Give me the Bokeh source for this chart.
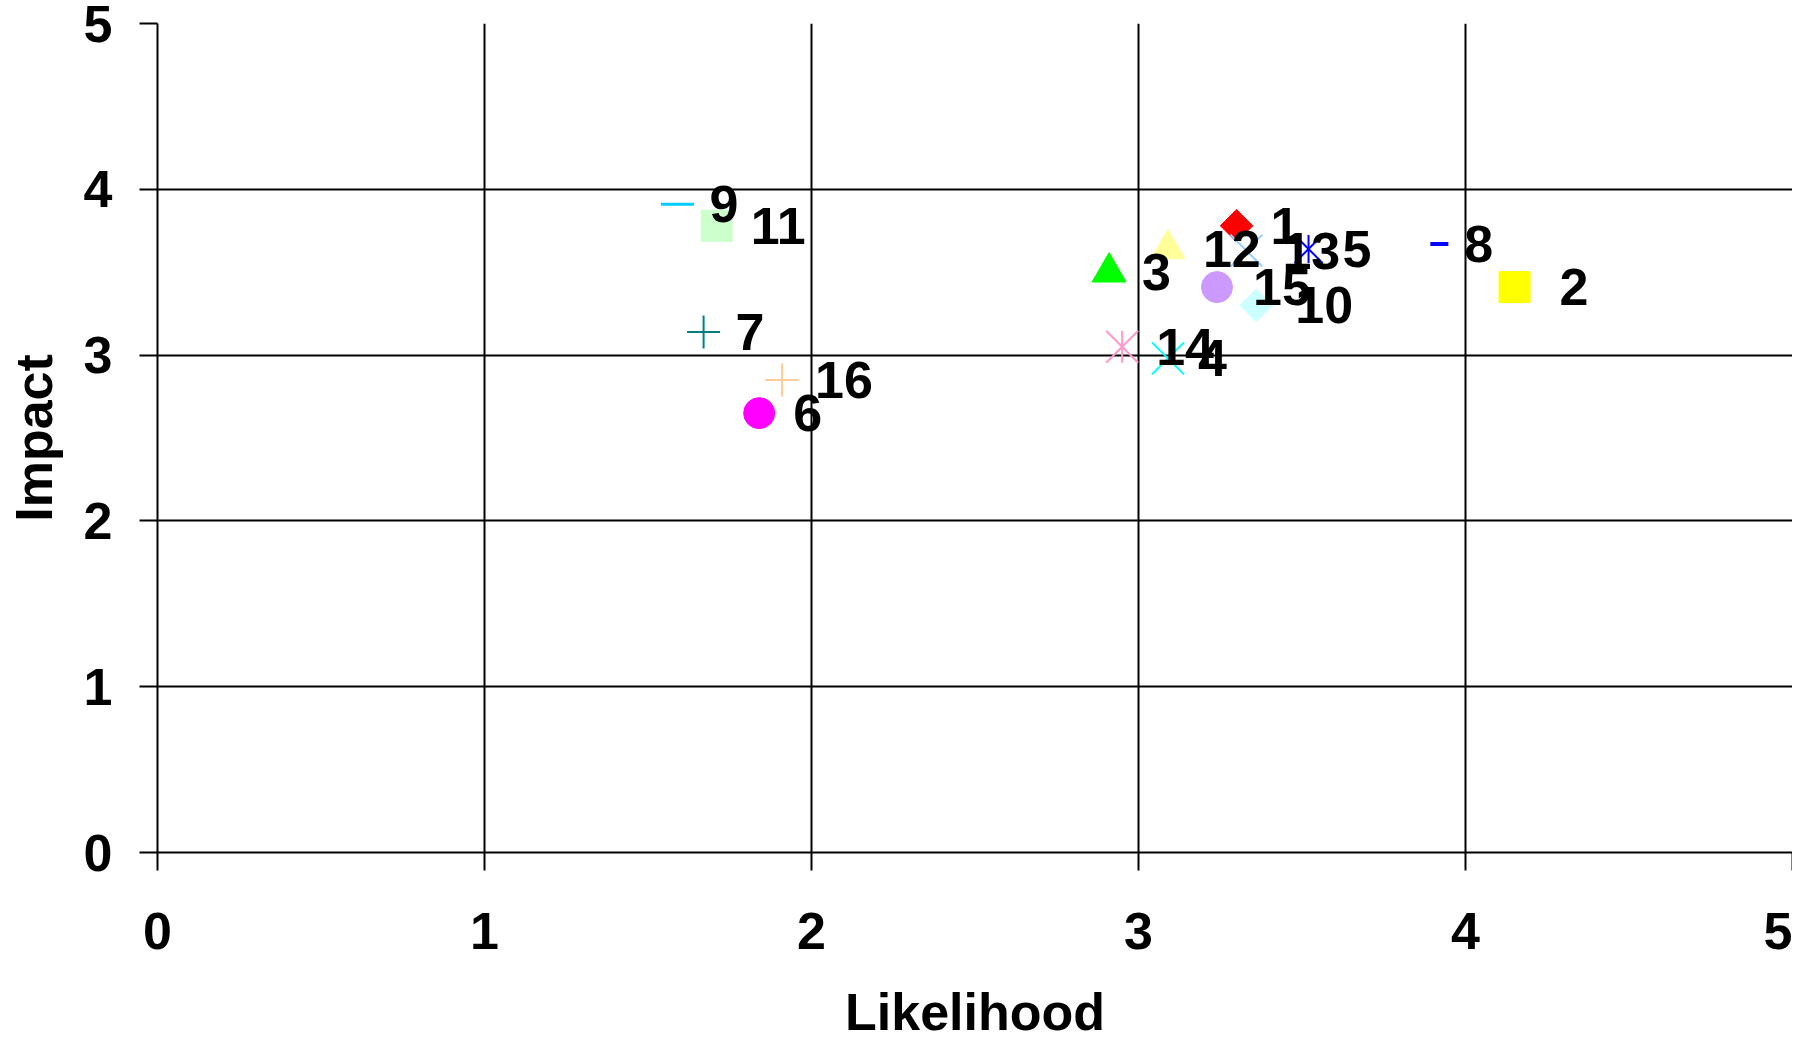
import numpy as np
from bokeh.plotting import figure
from bokeh.models import Range1d, FixedTicker
from bokeh.core.properties import value
from bokeh.embed import file_html
from bokeh.resources import INLINE

# ---- data ----
risk_ids = ["1", "2", "3", "4", "5", "6", "7", "8", "9", "10", "11", "12", "13", "14", "15", "16"]
likelihood = [3.30, 4.15, 2.91, 3.09, 3.52, 1.84, 1.67, 3.92, 1.59, 3.36, 1.71, 3.09, 3.33, 2.95, 3.24, 1.91]
impact = [3.78, 3.41, 3.50, 2.98, 3.64, 2.65, 3.14, 3.67, 3.91, 3.30, 3.78, 3.64, 3.63, 3.05, 3.41, 2.85]
axis_ticks = [0, 1, 2, 3, 4, 5]

# ---- styles (per risk id): marker kind, colour, size in px ----
marker_style = {
    "1": ("diamond", "#FF0000", 23),
    "2": ("square", "#FFFF00", 31),
    "3": ("triangle", "#00FF00", 34),
    "4": ("x", "#00FFFF", 32),
    "5": ("asterisk", "#0000FF", 28),
    "6": ("circle", "#FF00FF", 31),
    "7": ("cross", "#008080", 33),
    "8": ("dash", "#0000FF", 18),
    "9": ("dash", "#00CCFF", 33),
    "10": ("diamond", "#CCFFFF", 23),
    "11": ("square", "#CCFFCC", 31),
    "12": ("triangle", "#FFFF99", 34),
    "13": ("x", "#99CCFF", 32),
    "14": ("asterisk", "#FF99CC", 32),
    "15": ("circle", "#CC99FF", 31),
    "16": ("cross", "#FFCC99", 33),
}
dash_width = {"8": 4, "9": 3}
label_dx = [34, 45, 33, 30, 34, 34, 32, 25, 32, 39, 34, 35, 36, 34, 36, 33]

FONT = value("Liberation Sans")
FS = "52px"
SQ2 = np.sqrt(2)

p = figure(width=1792, height=1043, output_backend="svg", toolbar_location=None,
           x_range=Range1d(0, 5), y_range=Range1d(0, 5),
           min_border_left=157, min_border_top=23, min_border_right=0, min_border_bottom=187)
p.background_fill_color = "white"
p.border_fill_color = "white"
p.outline_line_color = None

for ax in (p.xaxis[0], p.yaxis[0]):
    ax.ticker = FixedTicker(ticks=axis_ticks)
    ax.axis_line_color = "black"
    ax.axis_line_width = 2
    ax.major_tick_line_color = "black"
    ax.major_tick_line_width = 2
    ax.major_tick_out = 18
    ax.major_tick_in = 0
    ax.minor_tick_line_color = None
    ax.major_label_text_font = "Liberation Sans"
    ax.major_label_text_font_style = "bold"
    ax.major_label_text_font_size = FS
    ax.major_label_text_color = "black"
    ax.axis_label_text_font = "Liberation Sans"
    ax.axis_label_text_font_style = "bold"
    ax.axis_label_text_font_size = FS
    ax.axis_label_text_color = "black"

p.xaxis.axis_label = "Likelihood"
p.yaxis.axis_label = "Impact"
p.xaxis.major_label_standoff = 42
p.yaxis.major_label_standoff = 27
p.xaxis.axis_label_standoff = 31
p.yaxis.axis_label_standoff = 18

p.xgrid.grid_line_color = "black"
p.ygrid.grid_line_color = "black"
p.xgrid.grid_line_width = 2
p.ygrid.grid_line_width = 2
p.xgrid.grid_line_alpha = 1
p.ygrid.grid_line_alpha = 1

for i, rid in enumerate(risk_ids):
    kind, color, size = marker_style[rid]
    xs, ys = [likelihood[i]], [impact[i]]
    if kind == "diamond":
        p.scatter(xs, ys, marker="square", angle=np.pi / 4, size=size,
                  fill_color=color, line_color=color)
    elif kind in ("square", "circle", "triangle"):
        p.scatter(xs, ys, marker=kind, size=size, fill_color=color, line_color=color)
    elif kind == "asterisk":
        p.scatter(xs, ys, marker="x", size=size * SQ2, line_color=color, line_width=2)
        p.scatter(xs, ys, marker="dash", angle=np.pi / 2, size=size, line_color=color, line_width=2)
    elif kind == "x":
        p.scatter(xs, ys, marker="x", size=size * SQ2, line_color=color, line_width=2)
    elif kind == "dash":
        p.scatter(xs, ys, marker="dash", size=size, line_color=color, line_width=dash_width[rid])
    else:
        p.scatter(xs, ys, marker=kind, size=size, line_color=color, line_width=2)

p.text(x=likelihood, y=impact, text=risk_ids, x_offset=label_dx,
       text_align="left", text_baseline="middle",
       text_font=FONT, text_font_style="bold", text_font_size=FS, text_color="black")

open("out.html", "w").write(file_html(p, INLINE))
